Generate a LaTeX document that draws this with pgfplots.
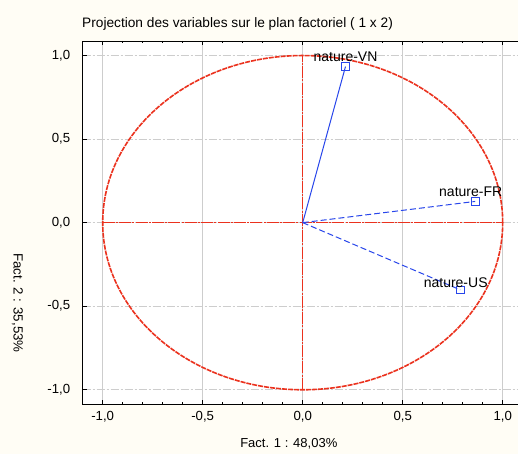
\documentclass[border=0pt]{standalone}
\usepackage{fontspec}
\setmainfont{Liberation Sans}
\usepackage{pgfplots}
\pgfplotsset{compat=1.18}
\definecolor{bgcream}{RGB}{255,253,245}
\definecolor{circred}{RGB}{235,50,30}
\definecolor{vecblue}{RGB}{40,70,235}
\definecolor{gridgray}{RGB}{205,205,205}

\begin{document}
\begin{tikzpicture}[x=1pt,y=1pt]
\useasboundingbox[fill=bgcream] (-82.7,-49.7) rectangle (435.3,404.3);
\begin{axis}[
    at={(0,0)}, anchor=south west,
    scale only axis, width=440pt, height=363.3pt,
    xmin=-1.1, xmax=1.1, ymin=-1.087, ymax=1.087,
    axis background/.style={fill=white},
    axis line style={line width=0.9pt},
    xtick={-1,-0.5,0,0.5,1}, ytick={-1,-0.5,0,0.5,1},
    minor x tick num=4,
    tick align=inside,
    major tick length=4pt, minor tick length=2.5pt,
    tick style={black, line width=0.6pt},
    xmajorgrids, ymajorgrids,
    x grid style={gridgray, line width=0.8pt},
    y grid style={gridgray, line width=0.8pt, dash pattern=on 8pt off 2pt on 2pt off 2pt},
    ticklabel style={font=\fontsize{13.2}{15}\selectfont},
    xticklabel style={yshift=-3pt},
    yticklabel style={xshift=-9pt},
    /pgf/number format/fixed,
    /pgf/number format/fixed zerofill,
    /pgf/number format/precision=1,
    /pgf/number format/use comma,
    /pgf/number format/assume math mode=true,
    clip=false,
]
% unit circle and red cross
\draw[circred, line width=1.6pt, dash pattern=on 5pt off 1pt] (axis cs:0,0) ellipse [x radius=1, y radius=1];
\addplot[circred, line width=1.3pt, dash pattern=on 12pt off 1.2pt on 2pt off 1.2pt] coordinates {(-1,0) (1,0)};
\addplot[circred, line width=1.3pt, dash pattern=on 12pt off 1.2pt on 2pt off 1.2pt] coordinates {(0,-1) (0,1)};
% vectors
\addplot[vecblue, line width=1pt] coordinates {(0,0) (0.214,0.934)};
\addplot[vecblue, line width=1pt, dash pattern=on 6pt off 3pt] coordinates {(0,0) (0.8625,0.127)};
\addplot[vecblue, line width=1pt, dash pattern=on 6pt off 3pt] coordinates {(0,0) (0.7875,-0.402)};
% points with labels
\addplot[vecblue, only marks, mark=square, mark size=3.8pt, mark options={line width=0.9pt},
    nodes near coords, point meta=explicit symbolic,
    every node near coord/.append style={black, font=\fontsize{14}{16}\selectfont, anchor=base, inner sep=0pt, yshift=5pt}]
    coordinates {(0.214,0.934)[nature-VN]};
\addplot[vecblue, only marks, mark=square, mark size=3.8pt, mark options={line width=0.9pt},
    nodes near coords, point meta=explicit symbolic,
    every node near coord/.append style={black, font=\fontsize{14}{16}\selectfont, anchor=base, inner sep=0pt, xshift=-4.5pt, yshift=5pt}]
    coordinates {(0.8625,0.127)[nature-FR]};
\addplot[vecblue, only marks, mark=square, mark size=3.8pt, mark options={line width=0.9pt},
    nodes near coords, point meta=explicit symbolic,
    every node near coord/.append style={black, font=\fontsize{14}{16}\selectfont, anchor=base, inner sep=0pt, xshift=-4.5pt, yshift=2pt}]
    coordinates {(0.7875,-0.402)[nature-US]};
\end{axis}
\node[anchor=west, inner sep=0pt, font=\fontsize{13.7}{16}\selectfont] at (-0.7,380) {Projection des variables sur le plan factoriel ( 1 x 2)};
\node[inner sep=0pt, font=\fontsize{13}{15}\selectfont] at (206.1,-39.5) {Fact. 1 : 48,03\%};
\node[inner sep=0pt, rotate=-90, font=\fontsize{13.3}{15}\selectfont] at (-65.2,101.3) {Fact. 2 : 35,53\%};
\end{tikzpicture}
\end{document}
